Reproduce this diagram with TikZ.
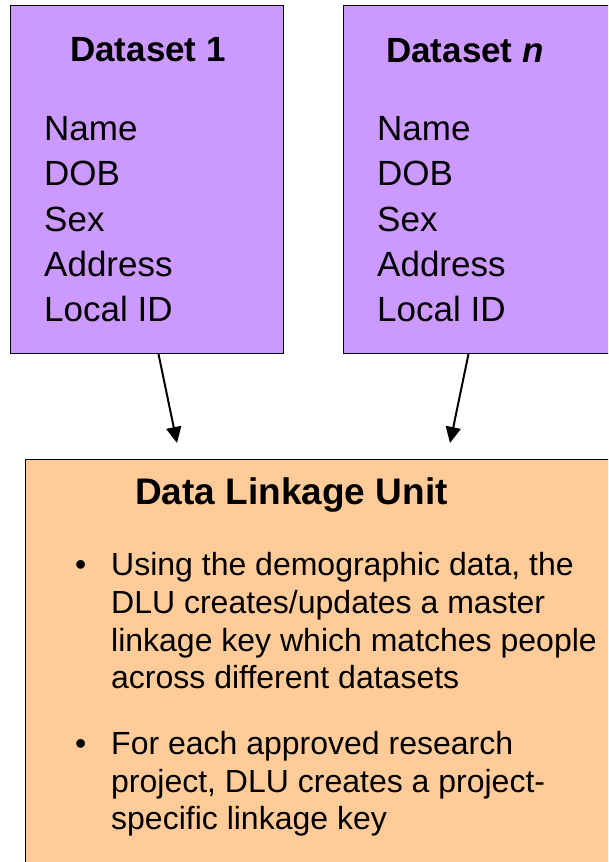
\documentclass[tikz,border=0pt]{standalone}
\usepackage{fontspec}
\setmainfont{Liberation Sans}
\usetikzlibrary{arrows.meta}

\definecolor{setpurple}{HTML}{CC99FF}
\definecolor{unitorange}{HTML}{FFCC99}

\tikzset{
    dataset/.style={draw, rectangle, fill=setpurple, line width=1pt, minimum width=273pt, minimum height=348pt, anchor=north west, inner sep=0pt},
    linkunit/.style={draw, rectangle, fill=unitorange, line width=1pt, minimum width=610pt, minimum height=420pt, anchor=north west, inner sep=0pt},
    boxtitle/.style={anchor=base west, inner sep=0pt, font=\fontsize{35}{42}\selectfont\bfseries},
    % multi-line texts are placed by the baseline of their last line
    fieldlist/.style={anchor=base west, inner sep=0pt, align=left, font=\fontsize{35}{45.25}\selectfont},
    bullettext/.style={anchor=base west, inner sep=0pt, align=left, font=\fontsize{32}{37.7}\selectfont},
    bulletdot/.style={anchor=base, inner sep=0pt, font=\fontsize{32}{37.7}\selectfont},
    feeds/.style={-{Triangle[length=16pt, width=15pt]}, line width=2pt}
}

\begin{document}
\begin{tikzpicture}[x=1pt, y=-1pt]
    \clip (0, 0) rectangle (608, 862);

    % source datasets
    \node (ds1) [dataset] at (10, 5) {};
    \node (dsn) [dataset] at (343, 5) {};
    \node (ds1title) [boxtitle] at (70, 61.7) {Dataset 1};
    \node (dsntitle) [boxtitle] at (386, 62) {Dataset \textit{n}};
    \node (ds1fields) [fieldlist] at (44, 321.7) {Name\\DOB\\Sex\\Address\\Local ID};
    \node (dsnfields) [fieldlist] at (377, 321.7) {Name\\DOB\\Sex\\Address\\Local ID};

    % linkage unit
    \node (dlu) [linkunit] at (25, 459) {};
    \node (dlutitle) [boxtitle, font=\fontsize{37}{42}\selectfont\bfseries] at (135, 504.3) {Data Linkage Unit};
    \node (dot1) [bulletdot] at (80.7, 575.7) {•};
    \node (item1) [bullettext] at (111, 688.8) {Using the demographic data, the\\DLU creates/updates a master\\linkage key which matches people\\across different datasets};
    \node (dot2) [bulletdot] at (80.7, 754.3) {•};
    \node (item2) [bullettext] at (111, 829.7) {For each approved research\\project, DLU creates a project-\\specific linkage key};

    \coordinate (in1) at (177, 443);
    \coordinate (inn) at (450, 443);
    \draw[feeds] ([xshift=11.5pt]ds1.south) -- (in1);
    \draw[feeds] ([xshift=-11.5pt]dsn.south) -- (inn);
\end{tikzpicture}
\end{document}
